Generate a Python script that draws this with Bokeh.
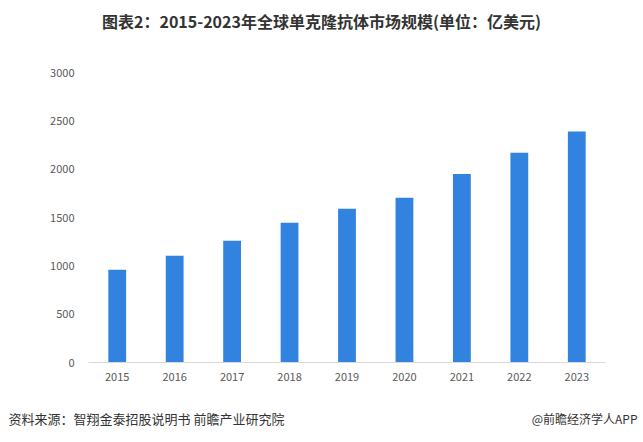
from bokeh.plotting import figure
from bokeh.models import ColumnDataSource, Label, Range1d, FixedTicker
from bokeh.embed import file_html
from bokeh.resources import INLINE

years = ["2015", "2016", "2017", "2018", "2019", "2020", "2021", "2022", "2023"]
market_size = [960, 1105, 1260, 1445, 1590, 1705, 1950, 2170, 2390]
y_ticks = [0, 500, 1000, 1500, 2000, 2500, 3000]

title_text = "图表2：2015-2023年全球单克隆抗体市场规模(单位：亿美元)"
source_text = "资料来源：智翔金泰招股说明书 前瞻产业研究院"
brand_text = "@前瞻经济学人APP"

FONT = "Noto Sans CJK SC"

src = ColumnDataSource(dict(year=years, value=market_size))

p = figure(x_range=years, y_range=Range1d(0, 3000), width=643, height=442,
           output_backend="svg", toolbar_location=None,
           min_border_left=88, min_border_right=38, min_border_top=72, min_border_bottom=80)
p.border_fill_color = "white"
p.outline_line_color = None

p.vbar(x="year", top="value", width=0.31, source=src, color="#3283E0", line_color=None)

p.xgrid.grid_line_color = None
p.ygrid.grid_line_color = None

p.yaxis.ticker = FixedTicker(ticks=y_ticks)
p.yaxis.axis_line_color = None
p.yaxis.major_tick_line_color = None
p.yaxis.minor_tick_line_color = None
p.yaxis.major_label_text_font = FONT
p.yaxis.major_label_text_font_size = "11px"
p.yaxis.major_label_text_color = "#595959"
p.yaxis.major_label_standoff = 8

p.xaxis.axis_line_color = "#D9D9D9"
p.xaxis.major_tick_line_color = None
p.xaxis.minor_tick_line_color = None
p.xaxis.major_label_text_font = FONT
p.xaxis.major_label_text_font_size = "11px"
p.xaxis.major_label_text_color = "#595959"
p.xaxis.major_label_standoff = 4
p.x_range.range_padding = 0

p.add_layout(Label(x=233, y=52, x_units="screen", y_units="screen", text=title_text,
                   text_font=FONT, text_font_size="16px", text_font_style="bold",
                   text_color="#333333", text_align="center", text_baseline="middle"), "above")
p.add_layout(Label(x=-80, y=-16, x_units="screen", y_units="screen", text=source_text,
                   text_font=FONT, text_font_size="13px",
                   text_color="#333333", text_align="left", text_baseline="middle"), "below")
p.add_layout(Label(x=549, y=1, x_units="screen", y_units="screen", text=brand_text,
                   text_font=FONT, text_font_size="12px",
                   text_color="#333333", text_align="right", text_baseline="middle"), "below")

open("out.html", "w").write(file_html(p, INLINE))
